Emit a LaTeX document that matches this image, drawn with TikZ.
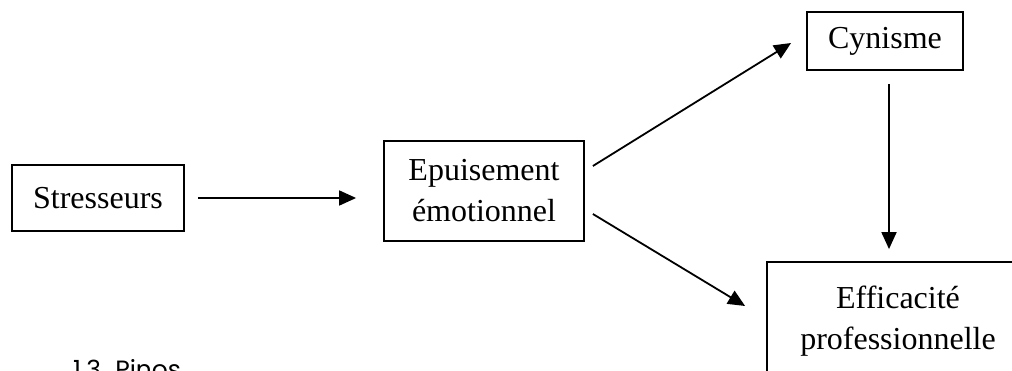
\documentclass[tikz,border=0pt]{standalone}
\usepackage{fontspec}
\setmainfont{Liberation Serif}
\newfontfamily\pinosfont{Poppins}
\usetikzlibrary{arrows.meta}
\begin{document}
\begin{tikzpicture}[x=1pt,y=-1pt,
  box/.style={draw, line width=1.8pt, inner sep=0pt, align=center,
    font=\fontsize{32}{41}\selectfont},
  arr/.style={line width=1.8pt, -{Triangle[length=17pt,width=15pt]}}]
\useasboundingbox (0,0) rectangle (1012,371);
\clip (0,0) rectangle (1012,371);
\node[box, minimum width=172pt, minimum height=66pt] (s) at (98,198) {Stresseurs};
\node[box, minimum width=200pt, minimum height=100pt] (e) at (484,191) {Epuisement\\émotionnel};
\node[box, minimum width=156pt, minimum height=58pt] (c) at (885,41) {Cynisme};
\node[box, minimum width=262pt, minimum height=118pt] (f) at (898,321) {Efficacité\\professionnelle};
\draw[arr, shorten <=13pt, shorten >=27pt] (s.east) -- (s.east -| e.west);
\draw[arr] ([shift={(8,-25)}]e.east) -- ([shift={(-15,2)}]c.west);
\draw[arr] ([shift={(8,23)}]e.east) -- ([shift={(-21,-15)}]f.west);
\draw[arr, shorten >=12pt] ([shift={(4,13)}]c.south) -- ([xshift=4pt]c.south |- f.north);
\node[anchor=base west, inner sep=0pt, font=\pinosfont\fontsize{25}{30}\selectfont] (p) at (73,378) {1.3. Pinos};
\end{tikzpicture}
\end{document}
